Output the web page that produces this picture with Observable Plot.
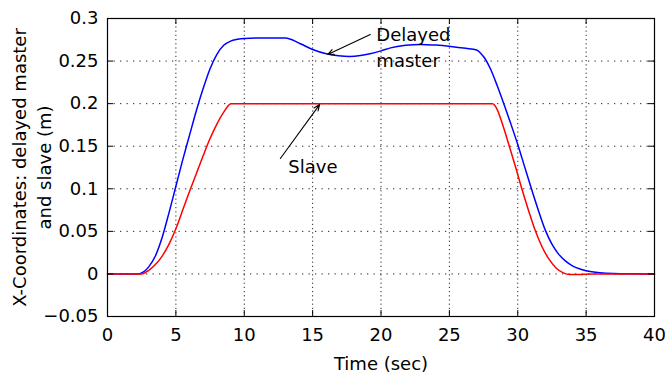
<!DOCTYPE html>
<html>
<head>
<meta charset="utf-8">
<script src="https://cdn.jsdelivr.net/npm/d3@7"></script>
<script src="https://cdn.jsdelivr.net/npm/@observablehq/plot@0.6"></script>
<style>
  html, body { margin: 0; padding: 0; background: #fff; }
  #chart { width: 665px; height: 378px; }
</style>
</head>
<body>
<div id="chart"></div>
<script>
// ---- data ----
const masterT = [0, 2.25, 2.6, 3.0, 3.5, 4.0, 4.5, 5.0, 5.5, 6.0, 6.5, 7.0, 7.5, 8.0, 8.5, 9.0, 9.5, 10, 11, 13, 14.1, 15.05, 16, 16.9, 17.7, 18.5, 19.2, 20.0, 20.7, 21.8, 22.9, 24, 25.1, 26.2, 27.0, 27.3, 27.6, 28.0, 28.5, 29.0, 29.5, 30.0, 30.5, 31.0, 31.5, 32.0, 32.5, 33.0, 33.5, 34.0, 34.5, 35, 36, 37, 38.5, 40];
const masterX = [0, 0, 0.002, 0.008, 0.021, 0.043, 0.072, 0.103, 0.134, 0.163, 0.192, 0.218, 0.241, 0.258, 0.2685, 0.2735, 0.2755, 0.2765, 0.277, 0.277, 0.2704, 0.2633, 0.2586, 0.2562, 0.2555, 0.2565, 0.2586, 0.262, 0.2655, 0.2685, 0.2696, 0.2688, 0.2672, 0.265, 0.263, 0.259, 0.253, 0.241, 0.221, 0.199, 0.176, 0.152, 0.126, 0.1, 0.075, 0.052, 0.035, 0.023, 0.015, 0.0095, 0.006, 0.0037, 0.0013, 0.0004, 0.0001, 0];

const slaveT = [0, 2.5, 3.0, 3.5, 4.0, 4.5, 5.0, 5.5, 6.0, 6.5, 7.0, 7.5, 8.0, 8.5, 9.03, 12, 20, 28.16, 28.5, 28.8, 29.1, 29.4, 29.85, 30.3, 30.8, 31.3, 31.8, 32.3, 32.8, 33.3, 33.8, 34.5, 35.5, 40];
const slaveX = [0, 0, 0.004, 0.011, 0.021, 0.035, 0.053, 0.075, 0.097, 0.118, 0.139, 0.159, 0.176, 0.19, 0.2, 0.2, 0.2, 0.2, 0.193, 0.18, 0.165, 0.149, 0.125, 0.1, 0.074, 0.05, 0.031, 0.017, 0.007, 0.0015, -0.0008, -0.0006, 0, 0];

const xTicks = [0, 5, 10, 15, 20, 25, 30, 35, 40];
const yTicks = [-0.05, 0, 0.05, 0.1, 0.15, 0.2, 0.25, 0.3];
const yTickLabels = ["\u22120.05", "0", "0.05", "0.1", "0.15", "0.2", "0.25", "0.3"];

const xTitle = "Time (sec)";
const yTitle = "X-Coordinates: delayed master\nand slave (m)";

// annotations
const noteText = ["Delayed", "master", "Slave"];
const noteT = [19.66, 19.66, 13.22];
const noteV = [0.2733, 0.2436, 0.1191];
const arrowT1 = [19.22, 12.64];
const arrowV1 = [0.2812, 0.1356];
const arrowT2 = [16.1, 15.51];
const arrowV2 = [0.2577, 0.1989];

// ---- build tables ----
const master = masterT.map((t, i) => ({t, v: masterX[i]}));
const slave = slaveT.map((t, i) => ({t, v: slaveX[i]}));
const notes = noteText.map((s, i) => ({s, t: noteT[i], v: noteV[i]}));
const arrows = arrowT1.map((t, i) => ({t1: t, v1: arrowV1[i], t2: arrowT2[i], v2: arrowV2[i]}));

const W = 665, H = 378;
const mL = 107, mR = 11, mT = 18, mB = 62;
const fw = W - mL - mR, fh = H - mT - mB;
const tk = 6;

const chart = Plot.plot({
  width: W,
  height: H,
  marginLeft: mL,
  marginRight: mR,
  marginTop: mT,
  marginBottom: mB,
  style: {fontFamily: "'DejaVu Sans', sans-serif", fontSize: "18px", background: "white", color: "black"},
  x: {domain: [0, 40], label: null},
  y: {domain: [-0.05, 0.3], label: null},
  marks: [
    Plot.ruleY(yTicks, {y: d => d, stroke: "black", strokeWidth: 1, strokeDasharray: "1.3,5.2", strokeOpacity: 0.85}),
    Plot.ruleX(xTicks, {x: d => d, stroke: "black", strokeWidth: 1, strokeDasharray: "1.2,3", strokeOpacity: 0.85}),
    Plot.line(master, {x: "t", y: "v", stroke: "#0000ff", strokeWidth: 1.5, curve: "monotone-x"}),
    Plot.line(slave, {x: "t", y: "v", stroke: "#ff0000", strokeWidth: 1.5, curve: "monotone-x"}),
    Plot.arrow(arrows, {x1: "t1", y1: "v1", x2: "t2", y2: "v2", stroke: "black", strokeWidth: 1.1, headLength: 9, headAngle: 45}),
    Plot.text(notes, {x: "t", y: "v", text: "s", textAnchor: "start", lineAnchor: "bottom", fill: "black"}),
    // inward ticks on all four sides
    Plot.tickX(xTicks, {x: d => d, insetTop: fh - tk, stroke: "black"}),
    Plot.tickX(xTicks, {x: d => d, insetBottom: fh - tk, stroke: "black"}),
    Plot.tickY(yTicks, {y: d => d, insetRight: fw - tk, stroke: "black"}),
    Plot.tickY(yTicks, {y: d => d, insetLeft: fw - tk, stroke: "black"}),
    Plot.frame({stroke: "black", strokeWidth: 1.2}),
    Plot.axisX(xTicks, {tickSize: 0, tickPadding: 12, label: null, fill: "black"}),
    Plot.axisY(yTicks, {tickSize: 0, tickPadding: 9, label: null, fill: "black",
      tickFormat: d => yTickLabels[yTicks.indexOf(d)]}),
    Plot.text([xTitle], {text: d => d, frameAnchor: "bottom", dy: 53, lineAnchor: "bottom", fill: "black"}),
    Plot.text([yTitle], {text: d => d, frameAnchor: "left", dx: -77, rotate: -90, lineAnchor: "middle", textAnchor: "middle", lineHeight: 1.4, fill: "black"})
  ]
});
document.getElementById("chart").appendChild(chart);
</script>
</body>
</html>
